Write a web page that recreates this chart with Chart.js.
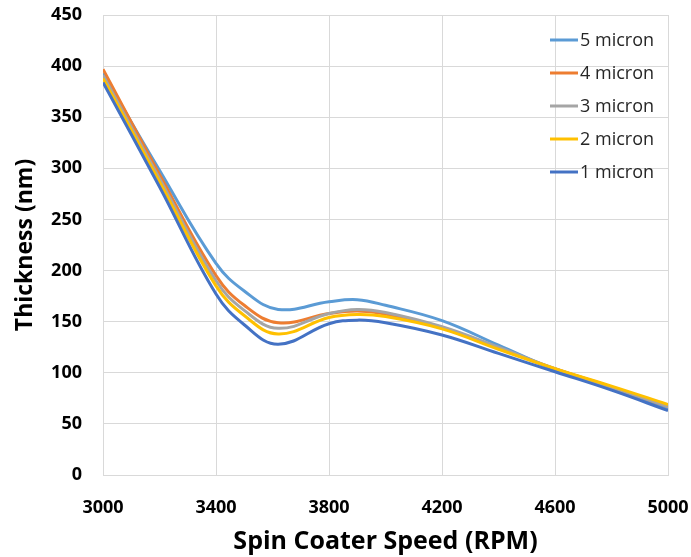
<!DOCTYPE html>
<html>
<head>
<meta charset="utf-8">
<script src="https://cdn.jsdelivr.net/npm/chart.js@4/dist/chart.umd.min.js"></script>
<style>
html,body{margin:0;padding:0;background:#fff;}
#wrap{width:691px;height:557px;position:relative;}
</style>
</head>
<body>
<div id="wrap"><canvas id="c" width="691" height="557"></canvas></div>
<script>
const rpm = [3000, 3200, 3400, 3500, 3620, 3800, 3900, 4000, 4200, 4400, 4600, 4800, 5000];
const seriesNames = ['5 micron', '4 micron', '3 micron', '2 micron', '1 micron'];
const micron5 = [393, 298, 207, 180, 162, 169.5, 171.5, 166, 151, 127, 103, 84, 64];
const micron4 = [397, 294, 195, 166, 149, 158, 160.5, 157.5, 144, 124, 104, 86, 67];
const micron3 = [391, 290, 190, 161, 143.5, 158, 162, 159, 145, 125, 104, 86, 67];
const micron2 = [388, 287, 185, 156, 138, 154, 157, 155, 143, 123, 104, 87, 69];
const micron1 = [384, 282, 177, 147, 128, 148, 151.5, 149, 137, 119, 101, 83, 63];
const xTicks = [3000, 3400, 3800, 4200, 4600, 5000];
const yTicks = [0, 50, 100, 150, 200, 250, 300, 350, 400, 450];
const colors = ['#5B9BD5', '#ED7D31', '#A5A5A5', '#FFC000', '#4472C4'];

const allSeries = [micron5, micron4, micron3, micron2, micron1];
const datasets = allSeries.map((vals, i) => ({
  label: seriesNames[i],
  data: vals.map((v, j) => ({x: rpm[j], y: v})),
  borderColor: colors[i],
  backgroundColor: colors[i],
  borderWidth: 3,
  pointRadius: 0,
  fill: false,
  tension: 0.4,
  order: 4 - i
}));

const FONT = "'Open Sans', 'DejaVu Sans', sans-serif";

const legendPlugin = {
  id: 'inlegend',
  afterDatasetsDraw(chart) {
    const ctx = chart.ctx;
    const a = chart.chartArea;
    ctx.save();
    ctx.font = "18px " + FONT;
    ctx.textBaseline = 'middle';
    ctx.textAlign = 'left';
    seriesNames.forEach((name, i) => {
      const y = a.top + 25 + i * 33;
      ctx.strokeStyle = colors[i];
      ctx.lineWidth = 3;
      ctx.beginPath();
      ctx.moveTo(a.right - 118, y);
      ctx.lineTo(a.right - 90, y);
      ctx.stroke();
      ctx.fillStyle = '#262626';
      ctx.fillText(name, a.right - 88, y + 1);
    });
    ctx.restore();
  }
};

new Chart(document.getElementById('c'), {
  type: 'line',
  data: { datasets },
  options: {
    responsive: false,
    animation: false,
    layout: { padding: { left: 0, right: 23, top: 15, bottom: 0 } },
    plugins: { legend: { display: false }, tooltip: { enabled: false } },
    scales: {
      x: {
        type: 'linear',
        min: 3000, max: 5000,
        afterBuildTicks: (s) => { s.ticks = xTicks.map(v => ({value: v})); },
        afterFit: (s) => { s.height = 82; s.paddingLeft = 0; s.paddingRight = 0; },
        grid: { color: '#d9d9d9', lineWidth: 1, drawTicks: false },
        border: { color: '#d9d9d9' },
        ticks: { padding: 22, color: '#000', font: { family: FONT, size: 18, weight: 'bold' }, maxRotation: 0,
                 callback: (v) => String(v) },
        title: { display: true, text: 'Spin Coater Speed (RPM)', color: '#000', font: { family: FONT, size: 25, weight: 'bold' }, padding: { top: 0, bottom: 0 } }
      },
      y: {
        min: 0, max: 450,
        afterBuildTicks: (s) => { s.ticks = yTicks.map(v => ({value: v})); },
        afterFit: (s) => { s.width = 103; s.paddingTop = 0; s.paddingBottom = 0; },
        grid: { color: '#d9d9d9', lineWidth: 1, drawTicks: false },
        border: { color: '#d9d9d9' },
        ticks: { padding: 21, color: '#000', font: { family: FONT, size: 18, weight: 'bold' }, callback: (v) => String(v) },
        title: { display: true, text: 'Thickness (nm)', color: '#000', font: { family: FONT, size: 23, weight: 'bold' }, padding: { top: 12, bottom: 0 } }
      }
    }
  },
  plugins: [legendPlugin]
});
</script>
</body>
</html>
